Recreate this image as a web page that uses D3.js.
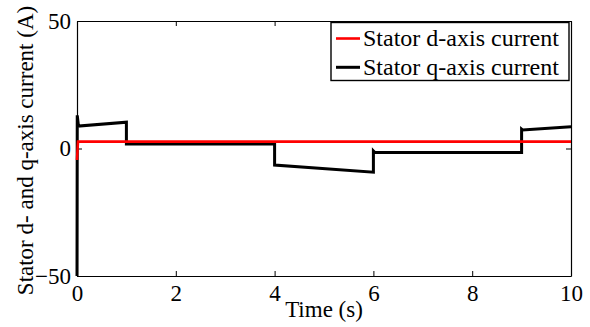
<!DOCTYPE html>
<html>
<head>
<meta charset="utf-8">
<script src="https://cdn.jsdelivr.net/npm/d3@7/dist/d3.min.js"></script>
</head>
<body style="margin:0;background:#fff">
<svg id="chart" width="590" height="327" style="display:block"></svg>
<script>
// Stator d-axis current: settles almost immediately to a constant value
const dTime = [0, 0.02, 10];
const dCurrent = [-4.5, 2.7, 2.7];

// Stator q-axis current: start-up transient, then step changes at 1, 4, 6 and 9 s
const qTime = [0, 0.005, 0.03, 1, 1, 4, 4, 6, 6, 6.03, 9, 9, 9.02, 10];
const qCurrent = [-50, 13, 8.8, 10.3, 1.8, 1.8, -6.5, -9.3, -1.0, -1.6, -1.6, 7.6, 7.3, 8.5];

const xTicks = [0, 2, 4, 6, 8, 10];
const yTicks = [-50, 0, 50];

const seriesNames = ["Stator d-axis current", "Stator q-axis current"];
const seriesColors = ["#ff0000", "#000000"];

const FONT = "Liberation Serif";
const fontSize = 23;

const svg = d3.select("#chart");
const m = { left: 77, right: 19, top: 21, bottom: 51 };
const W = 590, H = 327;
const x = d3.scaleLinear().domain([0, 10]).range([m.left, W - m.right]);
const y = d3.scaleLinear().domain([-50, 50]).range([H - m.bottom, m.top]);

svg.append("defs").append("clipPath").attr("id", "plotClip")
  .append("rect")
  .attr("x", m.left - 3).attr("y", m.top)
  .attr("width", W - m.left - m.right + 3).attr("height", H - m.top - m.bottom);

// Axes with inward ticks on all four sides (box style)
const tickLen = 5;
const axisBottom = d3.axisBottom(x).tickValues(xTicks).tickSizeInner(-tickLen).tickSizeOuter(0).tickPadding(9);
const axisTop = d3.axisTop(x).tickValues(xTicks).tickSizeInner(-tickLen).tickSizeOuter(0).tickFormat("");
const axisLeft = d3.axisLeft(y).tickValues(yTicks).tickSizeInner(-tickLen).tickSizeOuter(0).tickPadding(6);
const axisRight = d3.axisRight(y).tickValues(yTicks).tickSizeInner(-tickLen).tickSizeOuter(0).tickFormat("");

function styleAxis(g) {
  g.attr("font-family", FONT).attr("font-size", fontSize);
  g.selectAll("path").attr("stroke", "#000").attr("stroke-width", 1.2);
  g.selectAll("line").attr("stroke", "#000").attr("stroke-width", 1);
  g.selectAll("text").attr("fill", "#000");
}

svg.append("g").attr("transform", `translate(0,${H - m.bottom})`).call(axisBottom).call(styleAxis);
svg.append("g").attr("transform", `translate(0,${m.top})`).call(axisTop).call(styleAxis);
svg.append("g").attr("transform", `translate(${m.left},0)`).call(axisLeft).call(styleAxis);
svg.append("g").attr("transform", `translate(${W - m.right},0)`).call(axisRight).call(styleAxis);

// Data lines
const line = d3.line().x(d => x(d[0])).y(d => y(d[1]));
const plot = svg.append("g").attr("clip-path", "url(#plotClip)");

plot.append("path")
  .datum(qTime.map((t, i) => [t, qCurrent[i]]))
  .attr("d", line).attr("fill", "none")
  .attr("stroke", seriesColors[1]).attr("stroke-width", 3)
  .attr("stroke-linejoin", "miter");

plot.append("path")
  .datum(dTime.map((t, i) => [t, dCurrent[i]]))
  .attr("d", line).attr("fill", "none")
  .attr("stroke", seriesColors[0]).attr("stroke-width", 2.6);

// Axis titles
svg.append("text")
  .attr("x", (x(0) + x(10)) / 2).attr("y", 317)
  .attr("text-anchor", "middle")
  .attr("font-family", FONT).attr("font-size", fontSize)
  .text("Time (s)");

svg.append("text")
  .attr("transform", `translate(33,${(y(-50) + y(50)) / 2 + 2}) rotate(-90)`)
  .attr("text-anchor", "middle")
  .attr("font-family", FONT).attr("font-size", fontSize)
  .text("Stator d- and q-axis current (A)");

// Legend
const leg = svg.append("g");
leg.append("rect")
  .attr("x", 331).attr("y", 22.5).attr("width", 238).attr("height", 58)
  .attr("fill", "#fff").attr("stroke", "#000").attr("stroke-width", 1.4);
seriesNames.forEach((name, i) => {
  const cy = 38.5 + i * 28.8;
  leg.append("line")
    .attr("x1", 336).attr("x2", 360).attr("y1", cy).attr("y2", cy)
    .attr("stroke", seriesColors[i]).attr("stroke-width", i === 0 ? 2.6 : 3);
  leg.append("text")
    .attr("x", 363).attr("y", cy + 7.5)
    .attr("font-family", FONT).attr("font-size", 24)
    .text(name);
});
</script>
</body>
</html>
